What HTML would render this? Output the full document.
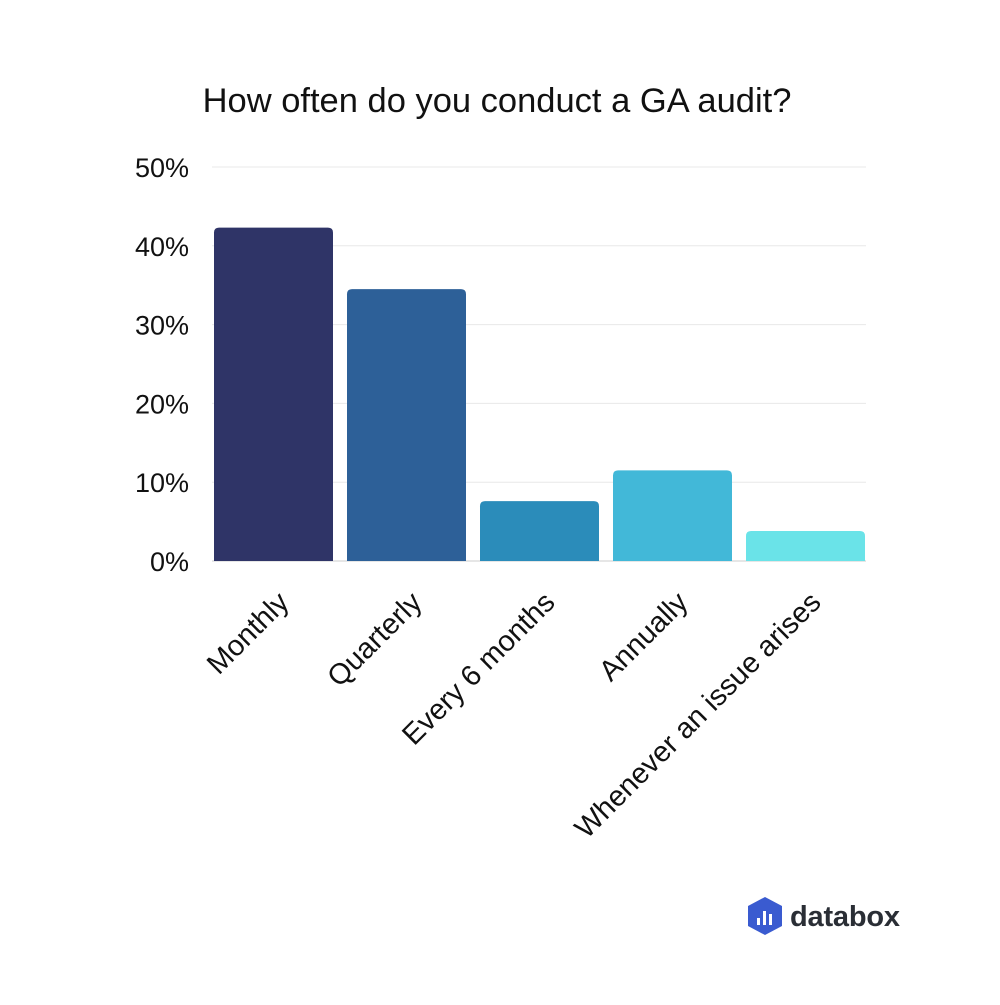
<!DOCTYPE html>
<html><head><meta charset="utf-8">
<style>
body{margin:0;background:#fff;}
svg text{font-family:"Liberation Sans",sans-serif;}
</style></head>
<body>
<svg id="chart" width="1000" height="1000" xmlns="http://www.w3.org/2000/svg">
<rect width="1000" height="1000" fill="#fff"/>
<text x="497" y="112" font-size="34.5" text-anchor="middle" fill="#111">How often do you conduct a GA audit?</text>
<g id="grid"></g><g id="bars"></g><g id="labels"></g>
<g>
<polygon points="765,897 782,906 782,926 765,935 748,926 748,906" fill="#3a5bd0"/>
<rect x="757" y="918" width="3" height="7" fill="#fff"/>
<rect x="763" y="911" width="3" height="14" fill="#fff"/>
<rect x="769" y="914" width="3" height="11" fill="#fff"/>
<text x="790" y="926" font-size="29" font-weight="bold" fill="#2a2e35" textLength="110">databox</text>
</g>
</svg>
<script>
const categories=["Monthly","Quarterly","Every 6 months","Annually","Whenever an issue arises"];
const values=[42.3,34.5,7.6,11.5,3.8];
const ticks=[0,10,20,30,40,50];
const tickLabels=["0%","10%","20%","30%","40%","50%"];
const colors=["#2f3467","#2d6098","#2b8cba","#42b8d8","#6ae3e8"];
const NS="http://www.w3.org/2000/svg";
const y0=561,y1=167,xL=212,xR=866;
const yScale=v=>y0-(v/50)*(y0-y1);
const step=133,barW=119,xStart=214;
const xScale=i=>xStart+i*step;
function mk(t,a,p){const e=document.createElementNS(NS,t);for(const k in a)e.setAttribute(k,a[k]);p.appendChild(e);return e;}
const grid=document.getElementById('grid');
ticks.forEach((t,i)=>{
 const l=mk('line',{x1:xL,x2:xR,y1:yScale(t),y2:yScale(t),stroke:t===0?'#cccccc':'#e8e8e8','stroke-width':1},grid);
 
 
 const tx=mk('text',{x:189,y:yScale(t)+10,'font-size':27,'text-anchor':'end',fill:'#111'},grid);
 tx.textContent=tickLabels[i];
 
 
});
const bars=document.getElementById('bars'),labels=document.getElementById('labels');
values.forEach((v,i)=>{
 const x=xScale(i),y=yScale(v);
 const p=mk('path',{d:`M${x},${y0} V${y+5} Q${x},${y} ${x+5},${y} H${x+barW-5} Q${x+barW},${y} ${x+barW},${y+5} V${y0} Z`,fill:colors[i]},bars);
 
 
 const cx=x+barW/2+17,cy=604;
 const t=mk('text',{x:cx,y:cy,'font-size':29,'text-anchor':'end',fill:'#111',transform:`rotate(-45 ${cx} ${cy})`},labels);
 t.textContent=categories[i];
 
 
});
</script>
</body></html>
